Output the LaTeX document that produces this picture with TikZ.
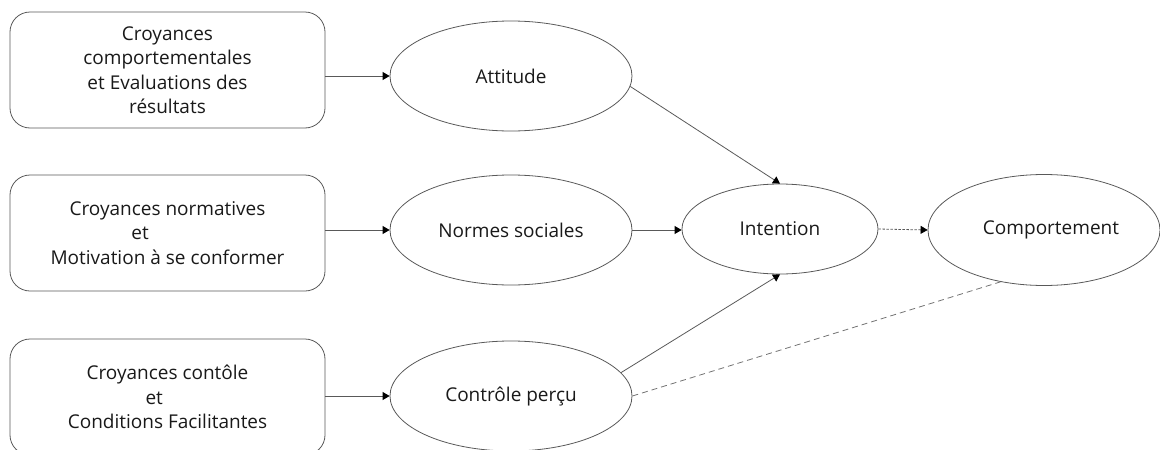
\documentclass[tikz,border=0pt]{standalone}
\usepackage{fontspec}
\setmainfont{Open Sans}
\usetikzlibrary{shapes.geometric,arrows.meta}
\begin{document}
\begin{tikzpicture}[x=1pt,y=-1pt,
  lbl/.style={font=\fontsize{19}{24.5}\selectfont, align=center, text=black!90},
  outline/.style={draw=black!65, line width=0.8pt},
  belief/.style={lbl, outline, rounded corners=20pt, minimum width=315pt,
    minimum height=116pt, inner sep=0pt},
  construct/.style={lbl, outline, ellipse, inner sep=0pt},
  link/.style={draw=black!65, line width=0.8pt,
    -{Triangle[length=7pt,width=8pt,color=black]}},
  dotlink/.style={link, dash pattern=on 2.5pt off 1.5pt},
  dashlink/.style={draw=black!55, line width=0.8pt, dash pattern=on 6pt off 4pt},
]
\useasboundingbox (0,0) rectangle (1160,450);

% belief boxes
\node[belief] (b1) at (167.5,70) {Croyances\\comportementales\\et Evaluations des\\résultats};
\node[belief] (b2) at (167.5,233) {Croyances normatives\\\makebox[72pt][l]{et}\\Motivation à se conformer};
\node[belief] (b3) at (167.5,397) {Croyances contôle\\\makebox[44pt][l]{et}\\Conditions Facilitantes};

% constructs
\node[construct, minimum width=242pt, minimum height=110pt] (att) at (511,76) {Attitude};
\node[construct, minimum width=242pt, minimum height=110pt] (norm) at (511,230) {Normes sociales};
\node[construct, minimum width=242pt, minimum height=110pt] (ctrl) at (511,396) {Contrôle perçu};
\node[construct, minimum width=196pt, minimum height=90pt] (int) at (780,229) {Intention};
\node[construct, minimum width=232pt, minimum height=111pt] (comp) at (1044,230) {\hspace*{14pt}Comportement};

% links
\draw[link] (att.west -| b1.east) -- (att.west);
\draw[link] (norm.west -| b2.east) -- (norm.west);
\draw[link] (ctrl.west -| b3.east) -- (ctrl.west);
\draw[link] (norm.east) -- (norm.east -| int.west);
\draw[link] (att.-5) -- (int.north);
\draw[link] (ctrl.12) -- (int.south);
\draw[dotlink] (int.east) -- (comp.west);
\draw[dashlink] (ctrl.east) -- (comp.-130);
\end{tikzpicture}
\end{document}
